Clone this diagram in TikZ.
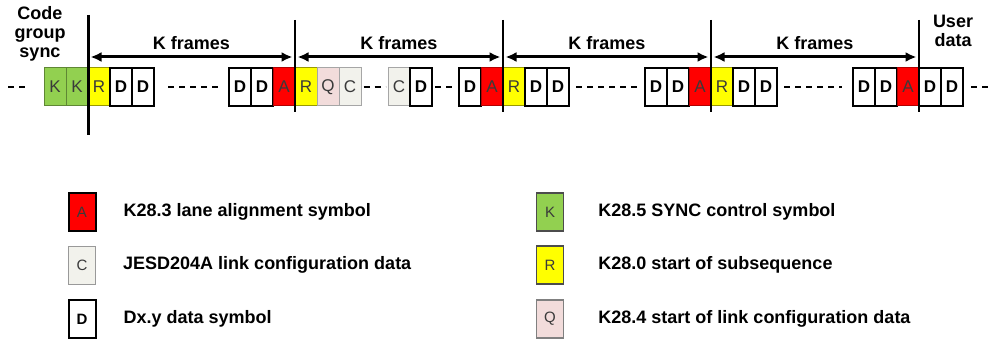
\documentclass[tikz,border=0pt]{standalone}
\usepackage{fontspec}
\setmainfont{Liberation Sans}
\usetikzlibrary{arrows.meta,positioning}

\definecolor{symK}{HTML}{92D050}
\definecolor{symR}{HTML}{FFFF00}
\definecolor{symA}{HTML}{FF0000}
\definecolor{symC}{HTML}{F2F2EC}
\definecolor{symQ}{HTML}{F2DCDB}
\definecolor{symtext}{HTML}{3A3A3A}

\begin{document}
\begin{tikzpicture}[x=1pt, y=-1pt,
    cell/.style={rectangle, minimum width=22pt, minimum height=38pt, inner sep=0pt,
        font=\fontsize{17}{17}\selectfont},
    cellD/.style={cell, draw=black, line width=2.4pt, fill=white,
        font=\bfseries\fontsize{17}{17}\selectfont},
    cellK/.style={cell, draw=symK!65!black, line width=1pt, fill=symK, text=symtext},
    cellR/.style={cell, draw=symR!60!black, line width=1pt, fill=symR, text=symtext},
    cellA/.style={cell, draw=symA!70!black, line width=1pt, fill=symA, text=symtext},
    cellC/.style={cell, draw=black!35, line width=1pt, fill=symC, text=symtext},
    cellQ/.style={cell, draw=black!35, line width=1pt, fill=symQ, text=symtext},
    legbox/.style={minimum width=27pt, minimum height=38pt, inner sep=0pt,
        font=\fontsize{15}{15}\selectfont},
    legtext/.style={font=\bfseries\fontsize{18}{18}\selectfont, inner sep=0pt},
    heading/.style={font=\bfseries\fontsize{18}{19}\selectfont, align=center, inner sep=0pt},
    gap/.style={line width=2.5pt, dash pattern=on 6pt off 5pt},
    bar/.style={line width=2pt},
    span/.style={line width=3pt, {Latex[length=11pt,width=10pt]}-{Latex[length=11pt,width=10pt]},
        shorten <=2.5pt, shorten >=2.5pt},
]
    \useasboundingbox (0, 0) rectangle (990, 339);

    % row of symbols
    \foreach \x/\s [count=\i] in {44/K,66/K,88/R,110/D,132/D,
            229/D,251/D,273/A,295/R,317/Q,339/C,
            388/C,410/D,
            459/D,481/A,503/R,525/D,547/D,
            645/D,667/D,689/A,711/R,733/D,755/D,
            853/D,875/D,897/A,919/D,941/D} {
        \node[cell\s] (c\i) at (\x+11, 87) {\s};
    }

    % dashes between the groups
    \coordinate (lft) at (8, 87);
    \coordinate (rgt) at (990, 87);
    \draw[gap] (lft) -- ([xshift=-14pt]c1.west);
    \draw[gap, shorten <=13pt, shorten >=7pt] (c5.east) -- (c6.west);
    \draw[gap, shorten <=2pt, shorten >=2pt] (c11.east) -- (c12.west);
    \draw[gap, shorten <=2pt, shorten >=3pt] (c13.east) -- (c14.west);
    \draw[gap, shorten <=6pt, shorten >=7pt] (c18.east) -- (c19.west);
    \draw[gap, shorten <=6pt, shorten >=10pt] (c24.east) -- (c25.west);
    \draw[gap, shorten <=7pt] (c29.east) -- (rgt);

    % frame boundaries
    \foreach \x [count=\i] in {88,295,503,711,919} {
        \coordinate (top\i) at (\x, 20);
        \coordinate (bot\i) at (\x, 112);
        \coordinate (mid\i) at (\x, 57);
    }
    \draw[bar, line width=3pt] ([yshift=5pt]top1) -- ([yshift=-23pt]bot1);
    \foreach \i in {2,3,4,5} {
        \draw[bar] (top\i) -- (bot\i);
    }
    \foreach \i/\j in {1/2,2/3,3/4,4/5} {
        \draw[span] (mid\i) -- node[midway, anchor=south, yshift=6pt, legtext] {K frames} (mid\j);
    }

    \node[heading] (sync) at (40, 34) {Code\\group\\sync};
    \node[heading] (user) at (953, 31) {User\\data};

    % legend
    \node[legbox, draw=black, line width=2pt, fill=symA, text=symtext] (legA) at (82, 212) {A};
    \node[legbox, draw=black!40, line width=1pt, fill=symC, text=symtext] (legC) at (82, 265) {C};
    \node[legbox, draw=black, line width=2pt, fill=white] (legD) at (82, 319) {\bfseries D};
    \node[legbox, draw=black!70, line width=1.5pt, fill=symK, text=symtext] (legK) at (550, 212) {K};
    \node[legbox, draw=black!70, line width=1.5pt, fill=symR, text=symtext] (legR) at (550, 265) {R};
    \node[legbox, draw=black!50, line width=1.5pt, fill=symQ, text=symtext] (legQ) at (550, 319) {Q};

    \node[legtext, right=27pt of legA] (txtA) {K28.3 lane alignment symbol};
    \node[legtext, right=27pt of legC] (txtC) {JESD204A link configuration data};
    \node[legtext, right=27pt of legD] (txtD) {Dx.y data symbol};
    \node[legtext, right=34pt of legK] (txtK) {K28.5 SYNC control symbol};
    \node[legtext, right=34pt of legR] (txtR) {K28.0 start of subsequence};
    \node[legtext, right=34pt of legQ] (txtQ) {K28.4 start of link configuration data};
\end{tikzpicture}
\end{document}
